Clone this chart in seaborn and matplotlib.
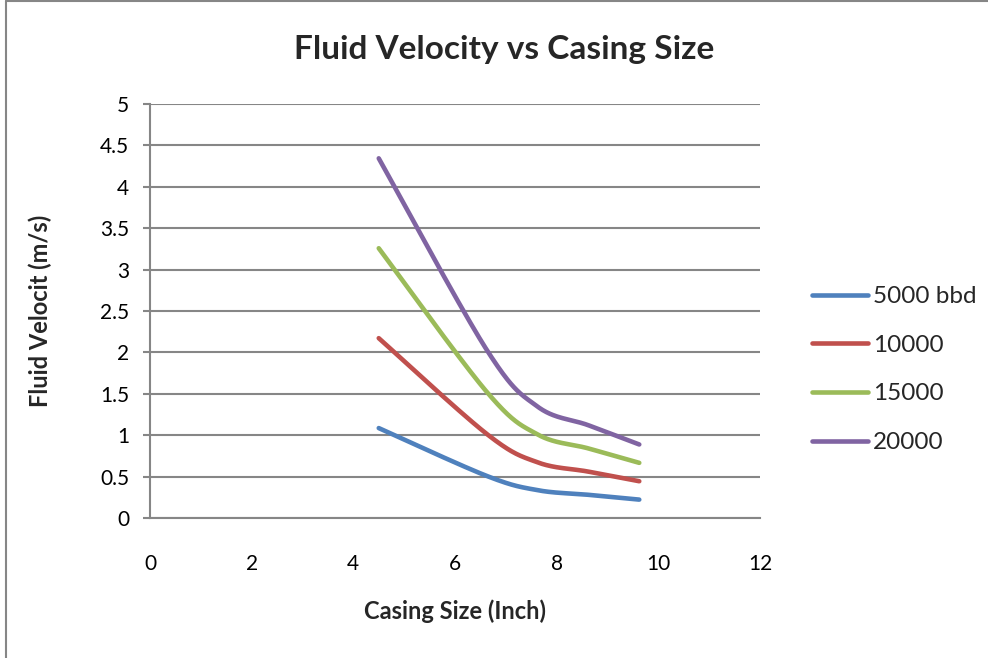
import numpy as np
import pandas as pd
import matplotlib
matplotlib.use("Agg")
import matplotlib.pyplot as plt
from matplotlib.lines import Line2D
import seaborn as sns

# ---- data ----
casing_size = [4.5, 6.625, 7.625, 8.625, 9.625]
v_5000 = [1.086, 0.508, 0.336, 0.280, 0.222]
v_10000 = [2.172, 1.015, 0.672, 0.560, 0.444]
v_15000 = [3.258, 1.523, 1.009, 0.840, 0.666]
v_20000 = [4.344, 2.030, 1.345, 1.120, 0.888]
series_names = ["5000 bbd", "10000", "15000", "20000"]
colors = ["#4F81BD", "#C0504D", "#9BBB59", "#8064A2"]

x_ticks = [0, 2, 4, 6, 8, 10, 12]
y_ticks = [0, 0.5, 1, 1.5, 2, 2.5, 3, 3.5, 4, 4.5, 5]


def smooth(xs, ys, n=60):
    """Excel-style smoothed line (cubic Bezier through the points)."""
    P = np.column_stack([xs, ys]).astype(float)
    m = len(P)
    out = []
    for i in range(m - 1):
        p0 = P[i - 1] if i > 0 else P[i]
        p1 = P[i]
        p2 = P[i + 1]
        p3 = P[i + 2] if i + 2 < m else P[i + 1]
        c1 = p1 + (p2 - p0) / 6.0
        c2 = p2 - (p3 - p1) / 6.0
        t = np.linspace(0, 1, n)[:, None]
        seg = ((1 - t) ** 3) * p1 + 3 * ((1 - t) ** 2) * t * c1 + 3 * (1 - t) * t ** 2 * c2 + t ** 3 * p2
        if i > 0:
            seg = seg[1:]
        out.append(seg)
    return np.vstack(out)


frames = []
for name, vals in zip(series_names, [v_5000, v_10000, v_15000, v_20000]):
    c = smooth(casing_size, vals)
    frames.append(pd.DataFrame({"x": c[:, 0], "y": c[:, 1], "series": name}))
df = pd.concat(frames, ignore_index=True)

sns.set_theme(style="white")
plt.rcParams["font.family"] = ["Lato", "DejaVu Sans"]

W, H = 988, 658
fig = plt.figure(figsize=(W / 100, H / 100), dpi=100)
ax = fig.add_axes([150 / W, 1 - 518 / H, 610 / W, 414 / H])

sns.lineplot(data=df, x="x", y="y", hue="series", palette=colors,
             hue_order=series_names, sort=False, estimator=None,
             units="series", linewidth=3.3, ax=ax, legend=True,
             solid_capstyle="round")

ax.set_xlim(0, 12)
ax.set_ylim(0, 5)
ax.set_xticks(x_ticks)
ax.set_yticks(y_ticks)
ax.set_xticklabels([str(v) for v in x_ticks])
ax.set_yticklabels([("%g" % v) for v in y_ticks])
ax.yaxis.grid(True, color="#868686", linewidth=1.5)
ax.xaxis.grid(False)
for s in ["top", "right"]:
    ax.spines[s].set_visible(False)
for s in ["left", "bottom"]:
    ax.spines[s].set_color("#868686")
    ax.spines[s].set_linewidth(1.5)
ax.tick_params(axis="y", which="major", left=True, length=5, width=1.5,
               color="#868686", labelsize=15, pad=10, labelcolor="black")
ax.tick_params(axis="x", which="major", bottom=False, labelsize=15, pad=20,
               labelcolor="black")
ax.set_xlabel("Casing Size (Inch)", fontsize=17, fontweight="bold")
ax.xaxis.set_label_coords(0.5, -(611 - 518) / 414)
ax.set_ylabel("Fluid Velocit (m/s)", fontsize=17, fontweight="bold")
ax.yaxis.set_label_coords((40 - 150) / 610, 0.5)
ax.xaxis.label.set_va("center")
ax.yaxis.label.set_va("center")
ax.set_axisbelow(True)

handles, labels = ax.get_legend_handles_labels()
for h in handles:
    h.set_linewidth(3.3)
leg = ax.legend(handles, labels, loc="upper left",
                bbox_to_anchor=(812 / W, 1 - 286 / H), bbox_transform=fig.transFigure,
                frameon=False, fontsize=17.5, handlelength=2.3, handletextpad=0.2,
                labelspacing=1.14, borderaxespad=0, borderpad=0)

fig.text(504 / W, 1 - 50 / H, "Fluid Velocity vs Casing Size", ha="center",
         va="center", fontsize=24, fontweight="bold")

# chart-area border
fig.add_artist(Line2D([6 / W, 6 / W], [0, 1 - 1 / H], transform=fig.transFigure,
                      color="#868686", linewidth=1.5))
fig.add_artist(Line2D([6 / W, 1], [1 - 1 / H, 1 - 1 / H], transform=fig.transFigure,
                      color="#868686", linewidth=1.5))

fig.savefig("out.png", dpi=100)
